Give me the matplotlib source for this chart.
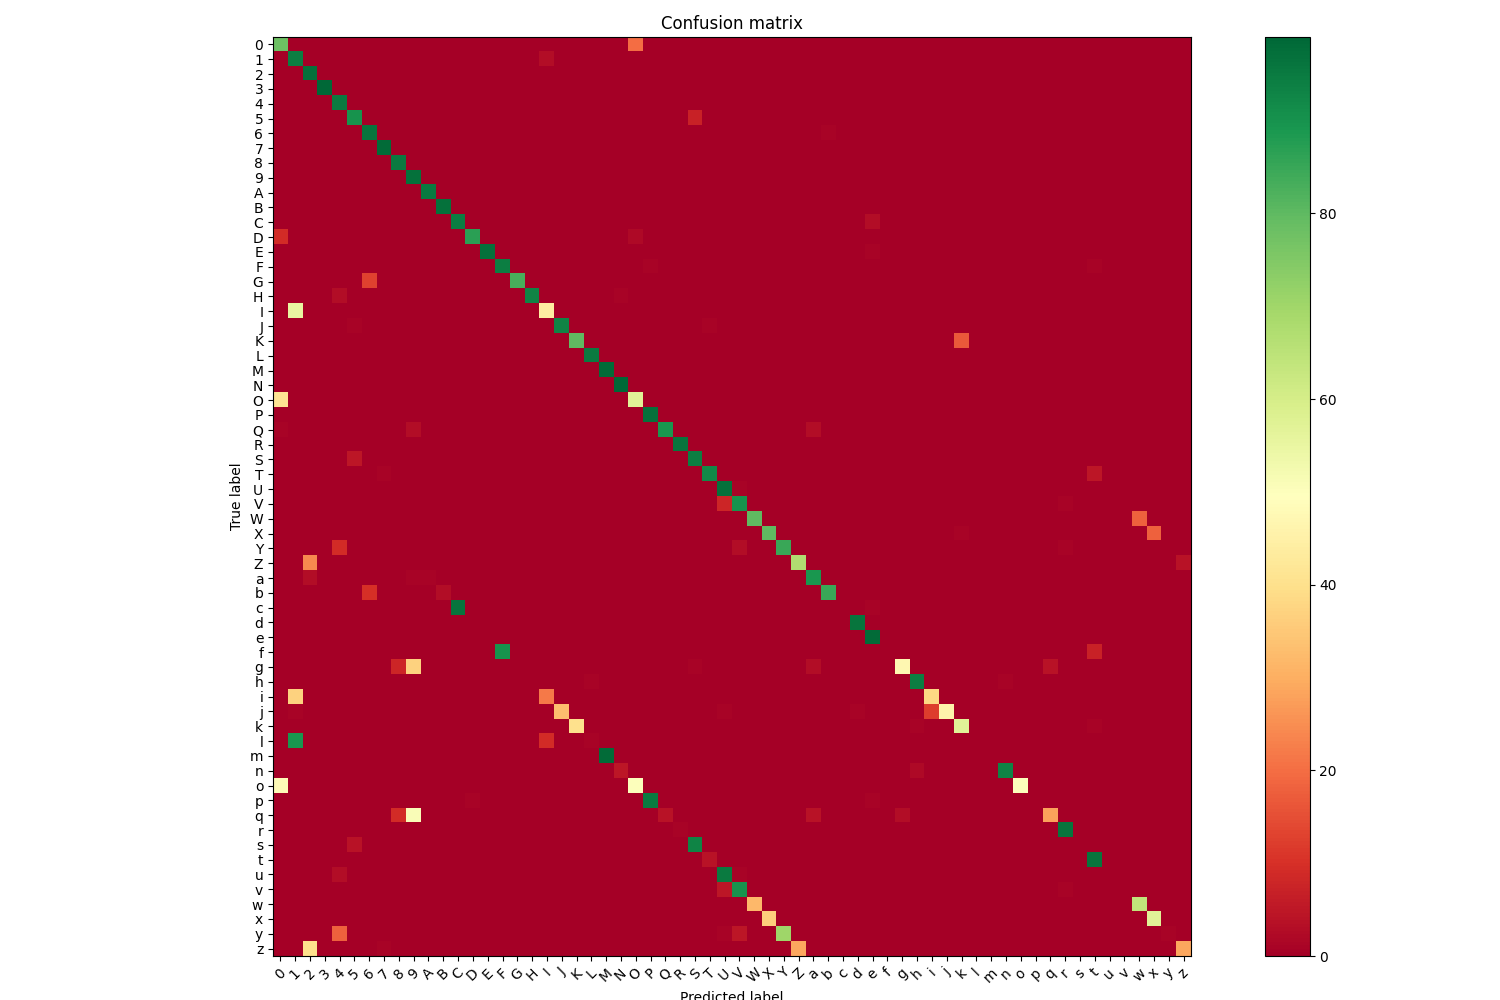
import numpy as np
import matplotlib
matplotlib.use('Agg')
from matplotlib import pyplot as plt

classes = list('0123456789ABCDEFGHIJKLMNOPQRSTUVWXYZabcdefghijklmnopqrstuvwxyz')

# diagonal (correct predictions), one per class
diag_vals = [78, 94, 97, 99, 95, 90, 96, 98, 95, 97,          # 0-9
             95, 97, 94, 87, 97, 94, 83, 93, 44, 93,          # A-J
             80, 95, 98, 99, 57, 97, 89, 96, 94, 92,          # K-T
             97, 90, 80, 80, 85, 67,                          # U-Z
             89, 85, 0, 96, 98, 0, 47, 94, 38, 46,            # a-j
             57, 0, 0, 93, 50, 0, 28, 96, 0, 96,              # k-t
             0, 0, 64, 57, 0, 29]                             # u-z

# off-diagonal confusions: true label, predicted label, value
err_true = ['0', '1', '5', '6', 'C', 'D', 'D', 'E', 'F', 'F',
            'G', 'H', 'H', 'I', 'J', 'J', 'K', 'O', 'Q', 'Q', 'Q',
            'S', 'T', 'T', 'U', 'V', 'V', 'W', 'X', 'X', 'Y',
            'Y', 'Y', 'Z', 'Z', 'a', 'a', 'a', 'b', 'b', 'c',
            'c', 'f', 'f', 'g', 'g', 'g', 'g', 'g', 'h', 'h',
            'i', 'i', 'j', 'j', 'j', 'j', 'j', 'k', 'k', 'k',
            'l', 'l', 'l', 'm', 'n', 'n', 'o', 'o', 'p', 'p',
            'p', 'q', 'q', 'q', 'q', 'q', 'r', 's', 's', 't',
            'u', 'u', 'u', 'v', 'v', 'v', 'w', 'x', 'y', 'y',
            'y', 'y', 'y', 'z', 'z', 'z']
err_pred = ['O', 'I', 'S', 'b', 'e', '0', 'O', 'e', 'P', 't',
            '6', '4', 'N', '1', '5', 'T', 'k', '0', '0', '9', 'a',
            '5', '7', 't', 'V', 'U', 'r', 'w', 'x', 'k', '4',
            'V', 'r', '2', 'z', '2', '9', 'A', '6', 'B', 'C',
            'e', 'F', 't', '8', '9', 'S', 'a', 'q', 'L', 'n',
            '1', 'I', '1', 'J', 'U', 'd', 'i', 'K', 'h', 't',
            '1', 'I', 'L', 'M', 'N', 'h', '0', 'O', 'D', 'P',
            'e', '8', '9', 'Q', 'a', 'g', 'R', '5', 'S', 'T',
            '4', 'U', 'V', 'U', 'V', 'r', 'W', 'X', '4', 'U',
            'V', 'Y', 'y', '2', '7', 'Z']
err_vals = [20, 3, 7, 1, 3, 9, 2, 1, 1, 1,
            13, 3, 1, 55, 1, 1, 17, 41, 1, 3, 3,
            5, 1, 5, 1, 8, 1, 18, 18, 1, 9,
            3, 1, 24, 4, 3, 1, 1, 10, 3, 96,
            1, 90, 7, 8, 37, 1, 3, 4, 1, 1,
            37, 22, 1, 33, 1, 1, 12, 40, 1, 1,
            89, 9, 1, 98, 5, 2, 48, 50, 1, 95,
            1, 9, 51, 4, 4, 3, 1, 4, 93, 4,
            3, 95, 1, 5, 90, 1, 32, 36, 18, 1,
            5, 70, 1, 40, 1, 29]


def build_matrix():
    n = len(classes)
    cm = np.zeros((n, n))
    for i, v in enumerate(diag_vals):
        cm[i, i] = v
    for t, p, v in zip(err_true, err_pred, err_vals):
        cm[classes.index(t), classes.index(p)] = v
    return cm


def main():
    cm = build_matrix()
    fig = plt.figure(figsize=(15, 10), dpi=100)
    ax = fig.add_axes([0.182, 0.044, 0.612, 0.919])
    cax = fig.add_axes([0.843, 0.044, 0.030, 0.919])

    im = ax.imshow(cm, interpolation='nearest', cmap=plt.cm.RdYlGn, aspect='auto')
    ax.set_title('Confusion matrix')
    fig.colorbar(im, cax=cax)

    tick_marks = np.arange(len(classes))
    ax.set_xticks(tick_marks)
    ax.set_xticklabels(classes, rotation=45)
    ax.set_yticks(tick_marks)
    ax.set_yticklabels(classes)
    ax.set_ylabel('True label')
    # label sits partly below the figure edge, as in the original
    ax.set_xlabel('Predicted label')

    fig.savefig('out.png', dpi=100)


if __name__ == "__main__":
    main()
